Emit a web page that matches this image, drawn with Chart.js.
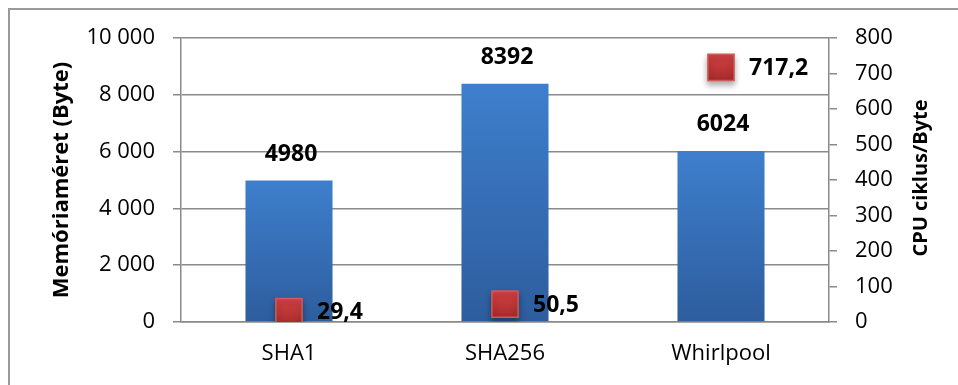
<!DOCTYPE html>
<html>
<head>
<meta charset="utf-8">
<script src="https://cdn.jsdelivr.net/npm/chart.js@4/dist/chart.umd.min.js"></script>
<style>
    html, body { margin: 0; padding: 0; background: #fff; }
    #wrap { position: relative; width: 958px; height: 385px; overflow: hidden; }
    #frame { position: absolute; left: 8px; top: 8px; width: 960px; height: 400px; border: 2px solid #9a9a9a; box-sizing: border-box; }
    canvas { position: absolute; left: 0; top: 0; }
</style>
</head>
<body>
<div id="wrap">
    <div id="frame"></div>
    <canvas id="chart" width="958" height="385"></canvas>
</div>
<script>
const categories = ["SHA1", "SHA256", "Whirlpool"];
const memorySize = [4980, 8392, 6024];      // Memóriaméret (Byte), left axis
const cpuCycles = [29.4, 50.5, 717.2];      // CPU ciklus/Byte, right axis
const leftTicks = [0, 2000, 4000, 6000, 8000, 10000];
const rightTicks = [0, 100, 200, 300, 400, 500, 600, 700, 800];
const rightTitle = "CPU ciklus/Byte";

const FONT = "'Open Sans', sans-serif";
const GRID = "#8a8a8a";

function thousands(v) {
    return String(v).replace(/\B(?=(\d{3})+(?!\d))/g, " ");
}

function barGradient(ctx) {
    const chart = ctx.chart;
    if (!chart.chartArea || !chart.scales.y) return "#3a74bf";
    const top = chart.scales.y.getPixelForValue(ctx.raw);
    const bottom = chart.chartArea.bottom;
    const g = chart.ctx.createLinearGradient(0, top, 0, bottom);
    g.addColorStop(0, "#3e7fcd");
    g.addColorStop(1, "#2d5d9d");
    return g;
}

function squareGradient(ctx) {
    const chart = ctx.chart;
    if (!chart.chartArea || !chart.scales.y2) return "#c0392f";
    const y = chart.scales.y2.getPixelForValue(ctx.raw);
    const g = chart.ctx.createLinearGradient(0, y - 13, 0, y + 13);
    g.addColorStop(0, "#d64343");
    g.addColorStop(1, "#a72b2b");
    return g;
}

const labelPlugin = {
    id: "valueLabels",
    beforeDatasetDraw(chart, args) {
        if (args.index === 1) {
            const c = chart.ctx;
            c.save();
            c.shadowColor = "rgba(0,0,0,0.35)";
            c.shadowBlur = 6;
            c.shadowOffsetY = 4;
        }
    },
    afterDatasetDraw(chart, args) {
        if (args.index === 1) chart.ctx.restore();
    },
    afterDatasetsDraw(chart) {
        const c = chart.ctx;
        c.save();
        c.fillStyle = "#000";
        c.font = "bold 23px " + FONT;
        c.textBaseline = "middle";

        c.textAlign = "center";
        chart.getDatasetMeta(0).data.forEach((bar, i) => {
            c.fillText(String(memorySize[i]), bar.x + 2, bar.y - 26);
        });

        c.textAlign = "left";
        chart.getDatasetMeta(1).data.forEach((pt, i) => {
            c.fillText(String(cpuCycles[i]).replace(".", ","), pt.x + 28, pt.y + 1);
        });
        c.restore();
    },
    afterDraw(chart) {
        // right axis title reads bottom-to-top, like the left one
        const c = chart.ctx;
        const area = chart.chartArea;
        c.save();
        c.translate(921, (area.top + area.bottom) / 2 - 2);
        c.rotate(-Math.PI / 2);
        c.fillStyle = "#000";
        c.font = "bold 20px " + FONT;
        c.textAlign = "center";
        c.textBaseline = "middle";
        c.fillText(rightTitle, 0, 0);
        c.restore();
    }
};

new Chart(document.getElementById("chart"), {
    data: {
        labels: categories,
        datasets: [
            {
                type: "bar",
                label: "Memóriaméret (Byte)",
                data: memorySize,
                yAxisID: "y",
                backgroundColor: barGradient,
                categoryPercentage: 1,
                barPercentage: 0.403,
                order: 2
            },
            {
                type: "line",
                label: rightTitle,
                data: cpuCycles,
                yAxisID: "y2",
                showLine: false,
                pointStyle: "rect",
                pointRadius: 18.5,
                pointHoverRadius: 18.5,
                pointBackgroundColor: squareGradient,
                pointBorderColor: "#cf5a56",
                pointBorderWidth: 1.5,
                order: 1
            }
        ]
    },
    plugins: [labelPlugin],
    options: {
        responsive: false,
        animation: false,
        events: [],
        layout: { padding: { top: 38, left: 0, right: 0, bottom: 0 } },
        plugins: {
            legend: { display: false },
            tooltip: { enabled: false }
        },
        scales: {
            x: {
                grid: { display: false, drawTicks: false },
                border: { display: true, color: GRID, width: 1.5 },
                ticks: { color: "#000", font: { family: FONT, size: 22 }, padding: 19 },
                afterFit(scale) { scale.height = 63; }
            },
            y: {
                position: "left",
                min: 0,
                max: 10000,
                afterBuildTicks(scale) { scale.ticks = leftTicks.map(v => ({ value: v })); },
                grid: { color: GRID, lineWidth: 1.5, tickLength: 8 },
                border: { color: GRID, width: 1.5 },
                ticks: {
                    color: "#000",
                    font: { family: FONT, size: 22 },
                    padding: 18,
                    callback: v => thousands(v)
                },
                title: {
                    display: true,
                    text: "Memóriaméret (Byte)",
                    color: "#000",
                    font: { family: FONT, size: 22, weight: "bold" },
                    padding: { top: 49, bottom: 0 }
                },
                afterFit(scale) { scale.width = 181; }
            },
            y2: {
                position: "right",
                min: 0,
                max: 800,
                afterBuildTicks(scale) { scale.ticks = rightTicks.map(v => ({ value: v })); },
                grid: { drawOnChartArea: false, color: GRID, lineWidth: 1.5, tickLength: 8 },
                border: { color: GRID, width: 1.5 },
                ticks: {
                    color: "#000",
                    font: { family: FONT, size: 22 },
                    padding: 18
                },
                title: { display: false },
                afterFit(scale) { scale.width = 129; }
            }
        }
    }
});
</script>
</body>
</html>
